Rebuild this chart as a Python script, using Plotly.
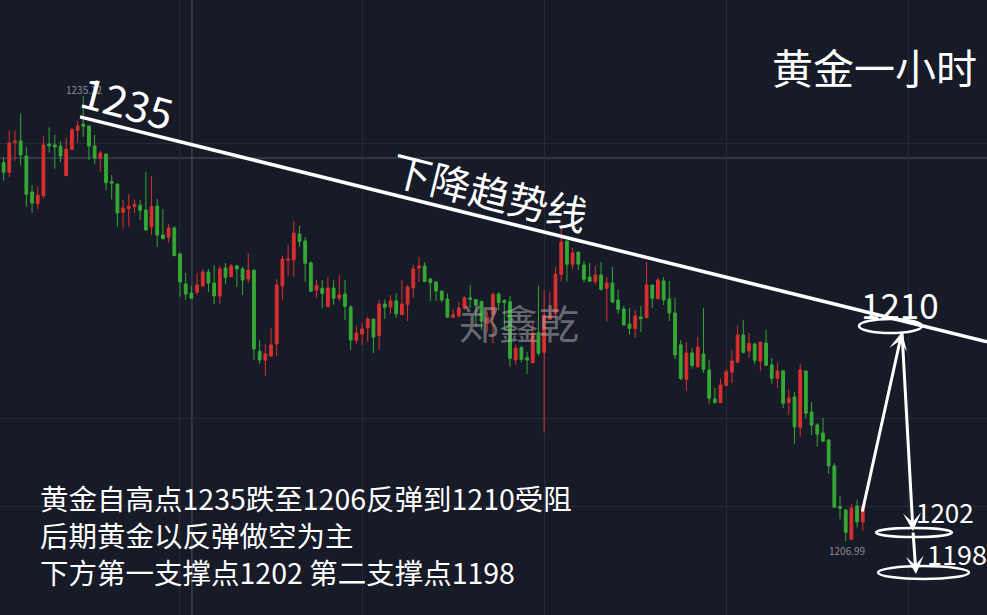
import plotly.graph_objects as go

# ---------------- data (gold, 1-hour candles) ----------------
open_ = [
1230.91, 1230.30, 1232.20, 1232.28, 1231.33, 1229.06, 1228.32, 1228.82, 1232.09, 1232.03,
1231.96, 1230.09, 1231.75, 1232.96, 1233.35, 1233.23, 1231.96, 1231.18, 1231.46, 1229.71,
1229.56, 1227.77, 1228.00, 1228.13, 1228.22, 1227.92, 1226.86, 1228.17, 1226.34, 1226.19,
1226.78, 1225.14, 1223.24, 1222.67, 1222.72, 1223.12, 1224.00, 1223.30, 1222.48, 1224.25,
1223.70, 1224.38, 1224.19, 1223.56, 1224.12, 1218.99, 1218.42, 1218.69, 1219.45, 1223.12,
1224.74, 1224.76, 1226.40, 1225.96, 1224.57, 1222.86, 1222.97, 1221.81, 1222.99, 1222.34,
1222.61, 1221.79, 1219.68, 1220.08, 1220.46, 1221.03, 1219.99, 1221.98, 1221.79, 1222.17,
1221.30, 1221.93, 1222.99, 1224.25, 1224.38, 1223.56, 1223.37, 1222.80, 1222.29, 1221.14,
1221.22, 1221.71, 1222.36, 1222.25, 1222.15, 1220.76, 1221.33, 1222.61, 1222.19, 1222.12,
1218.44, 1219.21, 1218.58, 1218.27, 1220.16, 1218.92, 1221.01, 1221.39, 1223.85, 1225.96,
1224.49, 1225.26, 1224.44, 1223.68, 1223.40, 1223.81, 1222.97, 1223.30, 1222.23, 1221.66,
1220.71, 1220.42, 1221.16, 1221.11, 1223.18, 1222.31, 1223.43, 1222.29, 1221.41, 1219.39,
1217.22, 1218.88, 1218.01, 1218.82, 1217.81, 1215.97, 1215.74, 1216.83, 1217.66, 1218.29,
1220.02, 1219.01, 1219.45, 1218.36, 1219.51, 1218.12, 1217.28, 1217.76, 1215.76, 1216.10,
1214.18, 1217.74, 1215.15, 1214.33, 1213.82, 1213.38, 1211.74, 1209.17, 1208.96, 1207.11,
1209.21, 1208.20,
]
high = [
1231.25, 1232.96, 1232.93, 1234.03, 1231.88, 1229.50, 1229.42, 1232.59, 1233.14, 1232.66,
1232.26, 1232.49, 1233.10, 1233.54, 1235.12, 1233.23, 1232.66, 1231.67, 1231.46, 1230.13,
1229.56, 1228.55, 1228.93, 1228.57, 1228.55, 1230.34, 1230.07, 1228.61, 1227.98, 1227.03,
1226.91, 1225.22, 1223.94, 1223.12, 1223.94, 1224.19, 1224.19, 1224.44, 1224.38, 1224.57,
1224.50, 1224.44, 1224.32, 1225.20, 1224.12, 1219.70, 1219.45, 1220.46, 1223.56, 1225.01,
1225.71, 1227.22, 1226.91, 1226.21, 1224.69, 1223.49, 1223.49, 1223.68, 1223.49, 1223.81,
1223.49, 1221.91, 1220.59, 1220.78, 1221.16, 1221.03, 1222.23, 1222.29, 1222.55, 1222.67,
1223.49, 1223.18, 1224.44, 1224.95, 1224.63, 1223.62, 1223.43, 1222.80, 1222.65, 1221.66,
1222.10, 1222.46, 1223.18, 1222.29, 1222.15, 1221.49, 1222.72, 1222.72, 1222.29, 1222.48,
1219.39, 1219.32, 1218.96, 1220.76, 1223.12, 1222.86, 1222.75, 1224.30, 1226.78, 1225.96,
1225.52, 1225.26, 1224.69, 1224.57, 1224.38, 1224.63, 1223.68, 1224.32, 1222.86, 1221.85,
1221.72, 1221.60, 1221.85, 1224.63, 1223.18, 1223.62, 1223.68, 1223.43, 1222.36, 1219.70,
1219.58, 1219.20, 1219.89, 1221.72, 1218.44, 1216.67, 1217.24, 1217.87, 1219.07, 1220.61,
1220.97, 1220.12, 1219.53, 1219.60, 1220.33, 1218.56, 1218.27, 1217.76, 1216.61, 1216.42,
1218.19, 1217.74, 1215.78, 1214.44, 1214.77, 1213.44, 1211.93, 1209.84, 1209.02, 1209.32,
1209.59, 1209.27,
]
low = [
1229.77, 1229.98, 1231.03, 1230.72, 1228.13, 1227.75, 1227.98, 1228.63, 1231.56, 1230.53,
1230.95, 1230.09, 1231.71, 1232.17, 1232.55, 1231.08, 1230.82, 1230.34, 1229.16, 1228.59,
1226.86, 1226.74, 1226.86, 1227.71, 1227.29, 1226.65, 1226.34, 1225.58, 1226.10, 1225.85,
1225.03, 1222.44, 1222.23, 1222.29, 1222.55, 1223.05, 1222.74, 1221.98, 1221.98, 1223.24,
1223.66, 1223.05, 1222.55, 1223.32, 1218.44, 1218.19, 1217.43, 1218.63, 1218.69, 1222.23,
1223.75, 1223.68, 1225.60, 1223.39, 1222.78, 1222.36, 1221.72, 1221.81, 1221.91, 1222.17,
1220.97, 1219.07, 1219.45, 1219.39, 1219.58, 1218.88, 1219.07, 1221.03, 1221.35, 1221.09,
1221.30, 1220.90, 1222.36, 1223.37, 1223.39, 1222.17, 1222.17, 1222.06, 1221.11, 1221.14,
1221.14, 1221.60, 1221.74, 1220.54, 1220.33, 1220.21, 1219.49, 1221.60, 1220.33, 1218.01,
1218.12, 1218.27, 1217.55, 1218.23, 1218.69, 1213.84, 1221.01, 1221.18, 1223.39, 1223.39,
1224.17, 1224.13, 1223.34, 1223.37, 1223.21, 1222.82, 1220.86, 1222.04, 1221.35, 1220.59,
1220.02, 1219.83, 1220.21, 1221.11, 1221.72, 1222.27, 1221.91, 1220.90, 1218.50, 1217.17,
1216.50, 1217.89, 1217.95, 1217.63, 1215.68, 1215.66, 1215.70, 1216.79, 1216.97, 1218.29,
1218.86, 1218.58, 1218.17, 1217.74, 1218.10, 1216.94, 1216.69, 1215.40, 1214.98, 1213.15,
1213.59, 1214.73, 1213.70, 1212.96, 1213.30, 1211.23, 1209.13, 1208.37, 1206.99, 1207.06,
1207.86, 1207.65,
]
close = [
1230.30, 1232.15, 1232.28, 1231.39, 1228.91, 1228.36, 1228.85, 1232.03, 1231.96, 1231.90,
1231.33, 1231.77, 1232.99, 1233.23, 1233.21, 1231.96, 1231.20, 1231.52, 1229.64, 1229.61,
1227.73, 1228.04, 1228.15, 1228.28, 1227.90, 1226.65, 1228.13, 1226.34, 1226.10, 1226.78,
1225.03, 1223.37, 1222.61, 1222.34, 1223.18, 1224.00, 1223.30, 1222.48, 1224.19, 1223.66,
1224.38, 1224.19, 1223.49, 1224.12, 1219.13, 1218.44, 1218.82, 1219.39, 1223.18, 1224.82,
1224.82, 1226.46, 1225.94, 1224.55, 1222.78, 1223.13, 1222.65, 1222.99, 1222.34, 1222.55,
1221.83, 1219.70, 1220.14, 1220.40, 1221.03, 1219.89, 1221.98, 1221.77, 1222.17, 1221.35,
1221.98, 1223.05, 1224.19, 1224.38, 1223.39, 1223.32, 1222.80, 1222.23, 1221.14, 1221.30,
1221.72, 1222.37, 1222.27, 1221.91, 1220.88, 1221.11, 1222.57, 1222.06, 1222.08, 1218.55,
1219.18, 1218.48, 1218.44, 1220.12, 1218.86, 1221.28, 1221.22, 1223.85, 1225.89, 1224.49,
1225.20, 1224.50, 1223.54, 1223.41, 1223.81, 1222.91, 1223.30, 1222.10, 1221.64, 1220.65,
1220.44, 1221.22, 1221.05, 1223.18, 1222.34, 1223.49, 1222.23, 1221.41, 1218.75, 1217.26,
1218.88, 1218.10, 1219.26, 1217.85, 1216.02, 1215.76, 1216.86, 1217.70, 1218.37, 1220.02,
1218.92, 1219.49, 1218.42, 1219.56, 1218.10, 1217.28, 1217.74, 1215.70, 1216.02, 1214.22,
1217.81, 1215.07, 1214.33, 1213.76, 1213.30, 1211.74, 1209.13, 1209.06, 1207.55, 1209.08,
1208.20, 1209.21,
]
bars = list(range(len(close)))

# reference levels / labels
high_label = "1235.12"
low_label = "1206.99"
trend_x = [13.43, 172.83]          # bar index of trend line ends
trend_y = [1233.80, 1219.58]       # price of trend line ends
grid_x = [31, 63, 95, 127, 159]
grid_y = [1209.15, 1214.77, 1232.09]
cross_x = 33.1
cross_y = 1231.20
notes = [
    "黄金自高点1235跌至1206反弹到1210受阻",
    "后期黄金以反弹做空为主",
    "下方第一支撑点1202 第二支撑点1198",
]

# ---------------- style ----------------
W, H = 987, 615
BG = "#171a27"
RED = "#d8302f"
GREEN = "#35a834"
FONT = "Noto Sans CJK SC"


def px(x):
    return x / W


def py(y):
    return 1 - y / H


fig = go.Figure()
fig.add_trace(go.Candlestick(
    x=bars, open=open_, high=high, low=low, close=close,
    increasing=dict(line=dict(color=RED, width=1), fillcolor=RED),
    decreasing=dict(line=dict(color=GREEN, width=1), fillcolor=GREEN),
    whiskerwidth=0, showlegend=False, hoverinfo="skip",
))

shapes = []
# crosshair
shapes.append(dict(type="line", xref="x", yref="paper", x0=cross_x, x1=cross_x, y0=0, y1=1,
                   line=dict(color="rgba(120,126,145,0.55)", width=1), layer="below"))
shapes.append(dict(type="line", xref="paper", yref="y", x0=0, x1=1, y0=cross_y, y1=cross_y,
                   line=dict(color="rgba(120,126,145,0.55)", width=1), layer="below"))
# trend line
shapes.append(dict(type="line", xref="x", yref="y", x0=trend_x[0], y0=trend_y[0],
                   x1=trend_x[1], y1=trend_y[1], line=dict(color="white", width=3.5)))
# ellipses (pixel boxes)
for (x0, y0, x1, y1) in [(859, 319, 922, 333), (876, 528, 952, 537), (878, 566, 969, 579)]:
    shapes.append(dict(type="circle", xref="paper", yref="paper",
                       x0=px(x0), x1=px(x1), y0=py(y1), y1=py(y0),
                       line=dict(color="white", width=2.5)))

ann = []


def text(s, x, y, size, color="white", angle=0, xanchor="center", align="center"):
    ann.append(dict(text=s, x=px(x), y=py(y), xref="paper", yref="paper", showarrow=False,
                    xanchor=xanchor, yanchor="middle", textangle=angle, align=align,
                    font=dict(family=FONT, size=size, color=color)))


def arrow(hx, hy, tx, ty):
    ann.append(dict(text="", x=px(hx), y=py(hy), xref="paper", yref="paper", showarrow=True,
                    ax=tx - hx, ay=ty - hy, arrowhead=3, arrowsize=1, arrowwidth=3,
                    arrowcolor="white", standoff=0, startstandoff=0))


text("郑鑫乾", 519, 322, 40, color="rgba(175,175,175,0.55)")
text(high_label, 84, 89, 10, color="#8a8d98")
text(low_label, 846.5, 550.5, 10, color="#8a8d98")
text("1235", 127, 101, 42, angle=15)
text("下降趋势线", 490, 191, 40, angle=14)
text("黄金一小时", 874, 66, 41)
text("1210", 900, 303, 35)
text("1202", 945, 511, 26)
text("1198", 925, 553, 27, xanchor="left")
text("<br>".join(notes), 38, 534, 28.5, xanchor="left", align="left")

arrow(902, 332, 862, 513)
arrow(913, 531, 902, 332)
arrow(916, 574, 913, 531)

fig.update_layout(
    width=W, height=H, margin=dict(l=0, r=0, t=0, b=0),
    paper_bgcolor=BG, plot_bgcolor=BG,
    shapes=shapes, annotations=ann,
    xaxis=dict(range=[-0.633, 172.83], rangeslider=dict(visible=False),
               tickvals=grid_x, showticklabels=False, ticks="",
               showgrid=True, gridcolor="#262a39", gridwidth=1, zeroline=False, showline=False),
    yaxis=dict(range=[1202.32, 1241.19], tickvals=grid_y, showticklabels=False, ticks="",
               showgrid=True, gridcolor="#262a39", gridwidth=1, zeroline=False, showline=False),
    showlegend=False,
)

fig.write_html("out.html", config={"displayModeBar": False},
               post_script="document.body.style.margin='0';document.body.style.overflow='hidden';")
